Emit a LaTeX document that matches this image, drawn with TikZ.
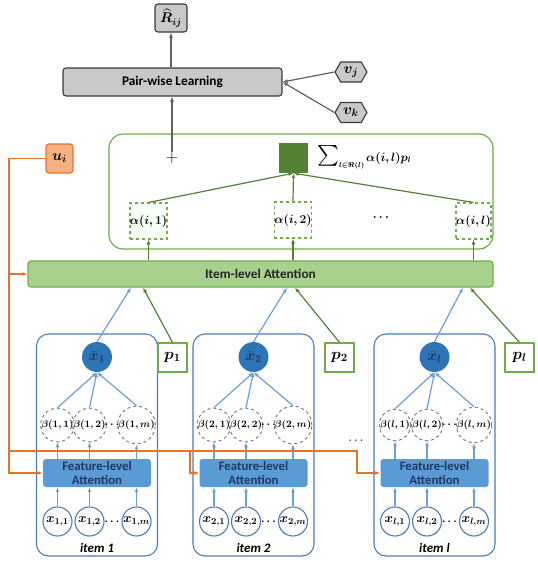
\RequirePackage{fix-cm}
\documentclass[tikz,border=0pt]{standalone}
\usepackage{amsmath}
\usepackage{bm}
\usepackage{fontspec}
\setsansfont{Carlito}
\usetikzlibrary{shapes.symbols,shapes.geometric,arrows.meta,calc}
\definecolor{gfill}{HTML}{C9C9C9}
\definecolor{gdraw}{HTML}{3A3A3A}
\definecolor{garrow}{HTML}{606060}
\definecolor{grn}{HTML}{70AD47}
\definecolor{dgrn}{HTML}{548235}
\definecolor{lgrn}{HTML}{A9D18E}
\definecolor{orng}{HTML}{E8722A}
\definecolor{lorng}{HTML}{F4B183}
\definecolor{blu}{HTML}{4A7EBB}
\definecolor{dblu}{HTML}{2E75B6}
\definecolor{mblu}{HTML}{5B9BD5}
\definecolor{navy}{HTML}{1F3864}
\definecolor{barc}{HTML}{6A9FD8}
\definecolor{dashg}{HTML}{7F7F7F}
\tikzset{
  fs/.style={font=\fontsize{#1}{#1}\selectfont},
  lbl/.style={font=\sffamily\bfseries\fontsize{13.3}{15}\selectfont},
  graybox/.style={draw=gdraw, fill=gfill, rounded corners=3pt, line width=1.1pt, inner sep=0pt},
  hex/.style={signal, signal to=west and east, signal pointer angle=120, draw=gdraw, fill=gfill,
     line width=1.1pt, minimum width=32pt, minimum height=20pt, inner sep=0pt, fs=15},
  garr/.style={-{Latex[length=5pt,width=4pt]}, draw=garrow, line width=1.2pt},
  grarr/.style={-{Latex[length=5pt,width=4pt]}, draw=dgrn, line width=1.2pt},
  barr/.style={-{Latex[length=5pt,width=4pt]}, draw=barc, line width=1.2pt},
  oarr/.style={-{Latex[length=5pt,width=4pt]}, draw=orng, line width=1.4pt},
  outerbox/.style={draw=grn, line width=1.2pt, rounded corners=14pt},
  sqbox/.style={fill=dgrn, minimum width=29pt, minimum height=30pt, inner sep=0pt},
  abox/.style={draw=grn, dashed, line width=1.1pt, minimum width=35pt, minimum height=36pt, inner sep=0pt, fill=white, fs=12},
  ilbox/.style={draw=grn, fill=lgrn, line width=1.2pt, rounded corners=3pt, minimum width=465pt, minimum height=26pt, lbl, text=black!85},
  ubox/.style={draw=orng, fill=lorng, line width=1.2pt, rounded corners=3pt, minimum width=27pt, minimum height=29pt, inner sep=0pt, fs=15},
  itembox/.style={draw=blu, line width=1.1pt, rounded corners=12pt, minimum width=121pt, minimum height=222pt},
  xbar/.style={circle, fill=dblu, minimum size=30pt, inner sep=0pt, text=navy, fs=15},
  beta/.style={circle, draw=dashg, dashed, line width=1pt, fill=white, minimum size=31pt, inner sep=0pt, fs=9.8},
  feat/.style={fill=mblu, rounded corners=3pt, minimum width=108pt, minimum height=28pt, inner sep=0pt, align=center,
     font=\sffamily\bfseries\fontsize{12.8}{14.5}\selectfont, text=navy},
  xin/.style={circle, draw=blu, line width=1.1pt, fill=white, minimum size=29pt, inner sep=0pt, fs=13},
  pbox/.style={draw=grn, line width=1.2pt, fill=white, minimum width=29pt, minimum height=29pt, inner sep=0pt, fs=16},
  itemlbl/.style={font=\sffamily\bfseries\itshape\fontsize{13}{15}\selectfont},
}
\begin{document}
\begin{tikzpicture}[x=1pt,y=-1pt]
\useasboundingbox (0,0) rectangle (538,566);
% top part
\node[graybox, minimum width=32pt, minimum height=28pt, fs=14] (R) at (171,18) {$\bm{\widehat{R}_{ij}}$};
\node[graybox, minimum width=219pt, minimum height=28pt, lbl] (pw) at (172.5,82) {Pair-wise Learning};
\node[hex] (vj) at (351,72) {$\bm{v_j}$};
\node[hex] (vk) at (351,112.5) {$\bm{v_k}$};
\draw[garr] (R.south |- pw.north) -- (R.south);
\draw[garr] (vj.west) -- (pw.east);
\draw[garr] (vk.west) -- (pw.east);
% green aggregation box
\node[outerbox, minimum width=384pt, minimum height=115pt] (outer) at (301,191.5) {};
\node[fs=17, inner sep=0pt] (plus) at (172,158) {+};
\draw[garr] (plus.north) -- (plus.north |- pw.south);
\node[sqbox] (sq) at (293.5,158) {};
\node[anchor=west, inner sep=0pt] (sum) at (317,157)
  {{\fontsize{22}{22}\selectfont$\textstyle\sum$}\raisebox{-6pt}{\fontsize{7}{7}\selectfont$\bm{l{\in}\Re(l)}$}\,{\fontsize{12}{13}\selectfont$\bm{\alpha(i,l)p_l}$}};
\node[abox, fill=green!4] (a1) at (148.5,221) {$\bm{\alpha(i,1)}$};
\node[abox] (a2) at (293,220) {$\bm{\alpha(i,2)}$};
\node[abox] (a3) at (473.5,221) {$\bm{\alpha(i,l)}$};
\node[fs=12] (adots) at (382,218) {$\bm{\cdots}$};
\draw[grarr] (a1.north) -- (sq.south);
\draw[grarr] (a2.north) -- (sq.south);
\draw[grarr] (a3.north) -- (sq.south);
\node[ilbox] (ia) at (260.5,274) {Item-level Attention};
\foreach \k in {1,2,3} \draw[grarr] (ia.north -| a\k) -- (a\k.south);
% user
\node[ubox] (ui) at (59.5,158.5) {$\bm{u_i}$};
% items
\foreach \i/\cx/\s/\px/\bx/\gx in {1/97/1/172.5/131/143, 2/253.5/2/339.5/287/295, 3/434.5/l/519.5/463/470}{
  \node[itembox] (item\i) at (\cx,445) {};
  \node[xbar] (xb\i) at (\cx,357) {$\bm{\bar{x}_{\s}}$};
  \node[beta] (b\i1) at (\cx-39.5,425) {$\bm{\beta(\s,1)}$};
  \node[beta] (b\i2) at (\cx-7.5,425) {$\bm{\beta(\s,2)}$};
  \node[beta] (b\i3) at (\cx+39.5,425) {$\bm{\beta(\s,m)}$};
  \node[fs=11, inner sep=0pt] (bd\i) at (\cx+16,425) {$\bm{\cdots}$};
  \node[feat] (fa\i) at (\cx,473) {Feature-level\\Attention};
  \node[xin] (x\i1) at (\cx-39.5,521.5) {$\bm{x_{\s,1}}$};
  \node[xin] (x\i2) at (\cx-7.5,521.5) {$\bm{x_{\s,2}}$};
  \node[xin] (x\i3) at (\cx+39.5,521.5) {$\bm{x_{\s,m}}$};
  \node[fs=11, inner sep=0pt] (xd\i) at (\cx+16,521.5) {$\bm{\cdots}$};
  \node[itemlbl] (il\i) at (\cx,548) {item \s};
  \node[pbox] (p\i) at (\px,357.5) {$\bm{p_{\s}}$};
  \foreach \j in {1,2,3}{
    \draw[barr] (x\i\j.north) -- (x\i\j.north |- fa\i.south);
    \draw[barr] (fa\i.north -| b\i\j) -- (b\i\j.south);
    \draw[barr] (b\i\j.north) -- (xb\i.south);
  }
  \draw[barr] (xb\i.north) -- (\bx,0 |- ia.south);
  \draw[grarr] (p\i.north) -- (\gx,0 |- ia.south);
}
\node[fs=11, text=black!70] (idots) at (357,441) {$\bm{\cdots}$};
% orange user connections
\coordinate (o1) at (9,158.5);
\coordinate (o2) at (9,451);
\coordinate (o3) at (190,451);
\coordinate (o4) at (357,451);
\draw[oarr] (ui.west) -- (o1) |- (fa1.west);
\draw[oarr] (o1 |- ia.west) -- (ia.west);
\draw[oarr] (o2) -- (o4) |- (fa3.west);
\draw[oarr] (o3) |- (fa2.west);
\end{tikzpicture}
\end{document}
